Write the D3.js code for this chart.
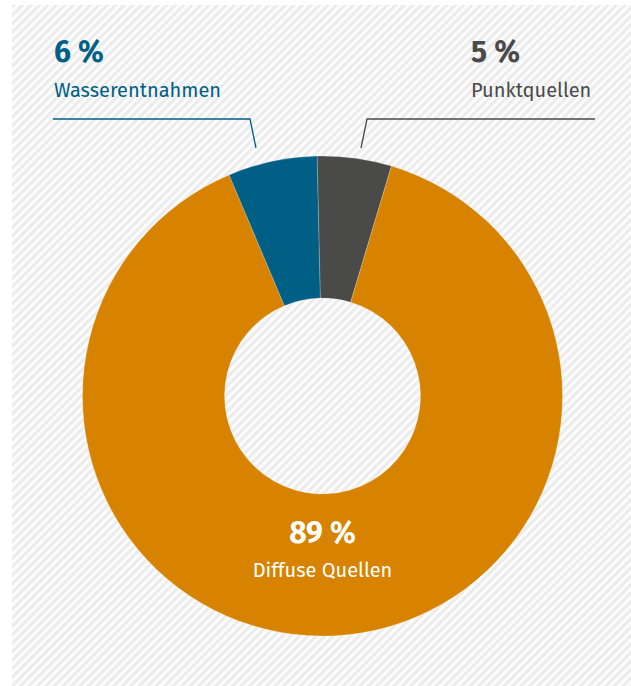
<!DOCTYPE html>
<html>
<head>
<meta charset="utf-8">
<script src="https://cdn.jsdelivr.net/npm/d3@7"></script>
<style>
  body { margin: 0; background: #fff; }
  svg { display: block; }
  text { font-family: "Fira Sans", "Noto Sans", "Open Sans", sans-serif; }
</style>
</head>
<body>
<svg></svg>
<script>
var width = 631,
	height = 686;

// data, clockwise from 12 o'clock
var categories = ["Punktquellen", "Diffuse Quellen", "Wasserentnahmen"];
var values = [5, 89, 6];
var labels = ["5 %", "89 %", "6 %"];
var colors = ["#4a4a49", "#d78300", "#005f85"];

var svg = d3.select("svg")
			.attr("width", width)
			.attr("height", height);

// hatched background
var defs = svg.append("defs");
var pat = defs.append("pattern")
	.attr("id", "hatch")
	.attr("patternUnits", "userSpaceOnUse")
	.attr("width", 6)
	.attr("height", 6)
	.attr("patternTransform", "rotate(45)");
pat.append("rect").attr("width", 6).attr("height", 6).attr("fill", "#fcfcfc");
pat.append("rect").attr("width", 3).attr("height", 6).attr("fill", "#ececec");

svg.append("rect")
	.attr("x", 12)
	.attr("y", 5)
	.attr("width", width - 12)
	.attr("height", height - 5)
	.attr("fill", "url(#hatch)");

var cx = 322.5, cy = 396;
var outerR = 240, innerR = 98;
var offset = -1.3 * Math.PI / 180;

var pie = d3.pie().sort(null)
	.startAngle(offset)
	.endAngle(2 * Math.PI + offset)
	.value(function(d) { return d; });
var arc = d3.arc().innerRadius(innerR).outerRadius(outerR);

var g = svg.append("g").attr("transform", "translate(" + cx + "," + cy + ")");

g.selectAll("path")
	.data(pie(values))
	.enter()
	.append("path")
	.attr("d", arc)
	.attr("fill", function(d, i) { return colors[i]; })
	.attr("stroke", "#ffffff")
	.attr("stroke-opacity", 0.35)
	.attr("stroke-width", 0.6);

// leader lines
var leaders = [
	{ i: 0, pts: [[595, 119], [367, 119], [361, 148]] },
	{ i: 2, pts: [[53, 119], [250, 119], [256, 148]] }
];
svg.selectAll(".leader")
	.data(leaders)
	.enter()
	.append("path")
	.attr("class", "leader")
	.attr("d", function(d) { return d3.line()(d.pts); })
	.attr("fill", "none")
	.attr("stroke", function(d) { return colors[d.i]; })
	.attr("stroke-width", 1.3);

// outside labels
var outside = [
	{ i: 0, x: 471 },
	{ i: 2, x: 54 }
];
outside.forEach(function(o) {
	svg.append("text")
		.attr("x", o.x)
		.attr("y", 62)
		.style("font-size", "30px")
		.style("font-weight", "bold")
		.style("fill", colors[o.i])
		.text(labels[o.i]);
	svg.append("text")
		.attr("x", o.x)
		.attr("y", 97)
		.style("font-size", "20px")
		.style("fill", colors[o.i])
		.text(categories[o.i]);
});

// inside label
svg.append("text")
	.attr("x", cx)
	.attr("y", 543)
	.attr("text-anchor", "middle")
	.style("font-size", "30px")
	.style("font-weight", "bold")
	.style("fill", "#ffffff")
	.text(labels[1]);
svg.append("text")
	.attr("x", cx)
	.attr("y", 577)
	.attr("text-anchor", "middle")
	.style("font-size", "20px")
	.style("fill", "#ffffff")
	.text(categories[1]);
</script>
</body>
</html>
